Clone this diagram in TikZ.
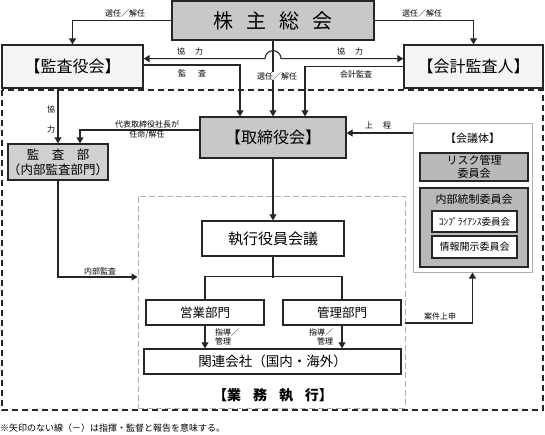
\documentclass[tikz,border=0pt]{standalone}
\usepackage{fontspec}
\setmainfont{Noto Sans CJK JP}
\usetikzlibrary{arrows.meta,calc}
\definecolor{ln}{RGB}{38,38,38}
\definecolor{boxgray}{RGB}{200,200,200}
\definecolor{midgray}{RGB}{185,185,185}
\definecolor{lightfill}{RGB}{244,244,244}
\definecolor{dashgray}{RGB}{175,175,175}
\tikzset{
  box/.style={draw=ln, line width=1.3pt, inner sep=0pt, align=center, text=black},
  gbox/.style={box, fill=boxgray},
  lbox/.style={box, fill=lightfill},
  wbox/.style={box, fill=white},
  conn/.style={draw=ln, line width=1.1pt},
  arr/.style={conn, -{Triangle[width=7pt,length=6pt]}},
  arrboth/.style={conn, {Triangle[width=7pt,length=6pt]}-{Triangle[width=7pt,length=6pt]}},
  lbl/.style={font=\fontsize{8}{9.5}\selectfont, inner sep=0.5pt, align=center},
}
\begin{document}
\begin{tikzpicture}[x=1pt,y=-1pt]
\useasboundingbox (0,0) rectangle (545,434);

% outer dashed frame
\draw[ln, line width=1.2pt, dash pattern=on 6pt off 4pt] (2,90) rectangle (543,410);

% inner business execution frame
\node[draw=dashgray, line width=0.9pt, dash pattern=on 6pt off 3pt, minimum width=267pt, minimum height=212pt, inner sep=0pt] (gyomu) at (271.5,302) {};
\node[font=\fontsize{14}{16}\selectfont\bfseries] (gyomulbl) at (273,395) {【業\hspace{12pt}務\hspace{12pt}執\hspace{12pt}行】};

% top level
\node[gbox, minimum width=202pt, minimum height=39pt, font=\fontsize{20}{24}\selectfont] (kabunushi) at (273,20.5) {株\hspace{13pt}主\hspace{13pt}総\hspace{13pt}会};
\node[lbox, minimum width=141pt, minimum height=43pt, font=\fontsize{16}{19}\selectfont] (kansayaku) at (72.5,66.5) {【監査役会】};
\node[lbox, minimum width=139pt, minimum height=43pt, font=\fontsize{16}{19}\selectfont] (kaikei) at (473.5,66.5) {【会計監査人】};

% board
\node[gbox, minimum width=146pt, minimum height=41pt, font=\fontsize{16}{19}\selectfont] (torishimari) at (273,137.5) {【取締役会】};
\node[gbox, fill=boxgray!85, minimum width=100pt, minimum height=36pt, font=\fontsize{12.5}{15}\selectfont] (kansabu) at (58,162) {監　査　部\\（内部監査部門）};

% meeting bodies
\node[draw=dashgray, line width=1pt, fill=white, minimum width=119pt, minimum height=149pt, inner sep=0pt] (kaigitai) at (472.5,197.5) {};
\node[font=\fontsize{11}{13}\selectfont] (kaigitailbl) at (472.5,138) {【会議体】};
\node[box, fill=midgray, minimum width=108pt, minimum height=28pt, font=\fontsize{11}{12.5}\selectfont] (risk) at (474,167) {リスク管理\\委員会};
\node[box, fill=midgray, minimum width=108pt, minimum height=79pt] (naibu) at (474,227.5) {};
\node[font=\fontsize{11}{13}\selectfont] (naibulbl) at (474,199) {内部統制委員会};
\node[wbox, line width=1.1pt, minimum width=85pt, minimum height=21pt, font=\fontsize{9.5}{11}\selectfont] (comp) at (474.5,221.5) {ｺﾝﾌﾟﾗｲｱﾝｽ委員会};
\node[wbox, line width=1.1pt, minimum width=85pt, minimum height=22pt, font=\fontsize{10}{12}\selectfont] (joho) at (474.5,247) {情報開示委員会};

% execution
\node[wbox, minimum width=142pt, minimum height=35pt, font=\fontsize{15}{18}\selectfont] (shikko) at (273,238.5) {執行役員会議};
\node[wbox, minimum width=118pt, minimum height=25pt, font=\fontsize{12.5}{15}\selectfont] (eigyo) at (205,312.5) {営業部門};
\node[wbox, minimum width=118pt, minimum height=25pt, font=\fontsize{12.5}{15}\selectfont] (kanri) at (342,312.5) {管理部門};
\node[wbox, minimum width=257pt, minimum height=25pt, font=\fontsize{13.5}{16}\selectfont] (kanren) at (272.5,361.5) {関連会社（国内・海外）};

% connectors from shareholders
\draw[arr] (kabunushi.west) -| (kansayaku.north);
\node[lbl] (l1) at (125,13) {選任／解任};
\draw[arr] (kabunushi.east) -| (kaikei.north);
\node[lbl] (l2) at (422,13) {選任／解任};
\draw[arr] (kabunushi.south) -- (torishimari.north);
\node[lbl, fill=white] (l3) at (277,76) {選任／解任};

% cooperation line with hop
\coordinate (hop) at ($(kabunushi.south)+(-8,18)$);
\draw[arrboth] (kansayaku.east |- hop) -- (hop) arc[start angle=180,end angle=0,radius=8pt] -- (kaikei.west |- hop);
\node[lbl] (l4) at (190,51) {協\hspace{10pt}力};
\node[lbl] (l5) at (350,51) {協\hspace{10pt}力};

% audits
\draw[arr] ([yshift=1.5pt]kansayaku.east) -| ([xshift=-33pt]torishimari.north);
\node[lbl] (l6) at (192,73) {監\hspace{12pt}査};
\draw[arr] (kaikei.west) -| ([xshift=32pt]torishimari.north);
\node[lbl] (l7) at (356,74) {会計監査};

% audit committee to internal audit
\draw[arr] (kansayaku.south -| kansabu.north) -- (kansabu.north);
\node[lbl] (l8) at (51,109) {協};
\node[lbl] (l9) at (51,129) {力};

% board to internal audit
\draw[arr] ([yshift=7.5pt]torishimari.west) -| ([xshift=22pt]kansabu.north);
\node[lbl] (l10) at (147,124) {代表取締役社長が};
\node[lbl] (l11) at (147,135) {任命/解任};

% internal audit to execution
\draw[arr] (kansabu.south) |- ([yshift=25pt]gyomu.west);
\node[lbl] (l12) at (100,271) {内部監査};

% meeting body to board
\coordinate (jo) at ([yshift=64.5pt]kaigitai.west);
\draw[arr] (jo) -- (torishimari.east |- jo);
\node[lbl] (l13) at (378,126) {上\hspace{10pt}程};

% board to executive meeting
\draw[arr] (torishimari.south) -- (shikko.north);

% executive meeting branches
\draw[conn] (shikko.south) -- ++(0,21);
\draw[conn] (eigyo.north) -- ++(0,-23) -| (kanri.north);

% guidance arrows
\draw[arr] (eigyo.south) -- (eigyo.south |- kanren.north);
\node[lbl, align=left] (l14) at (227,337) {指導／\\管理};
\draw[arr] (kanri.south) -- (kanri.south |- kanren.north);
\node[lbl, align=right] (l15) at (321,337) {指導／\\管理};

% proposal to meeting bodies
\coordinate (an) at ([yshift=-21pt]gyomu.east);
\draw[arr] (an) -| (kaigitai.south);
\node[lbl] (l16) at (440,316) {案件上申};

% footnote
\node[anchor=west, font=\fontsize{9}{10}\selectfont, inner sep=0pt] (note) at (0,428) {※矢印のない線（－）は指揮・監督と報告を意味する。};
\end{tikzpicture}
\end{document}
